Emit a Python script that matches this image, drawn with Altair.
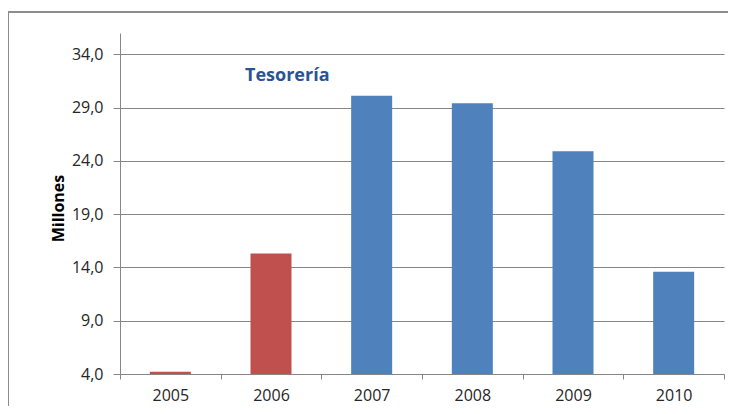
import altair as alt
import pandas as pd

years = ["2005", "2006", "2007", "2008", "2009", "2010"]
values = [4.2, 15.3, 30.1, 29.4, 24.9, 13.6]
colors = ["#C0504D", "#C0504D", "#4F81BD", "#4F81BD", "#4F81BD", "#4F81BD"]
y_ticks = [4, 9, 14, 19, 24, 29, 34]
title_text = "Tesorería"
y_title = "Millones"

df = pd.DataFrame({"year": years, "value": values, "color": colors})

W, H = 604, 341
FONT = "Open Sans"

bars = alt.Chart(df).mark_bar(size=41).encode(
    x=alt.X("year:N", sort=years,
            scale=alt.Scale(paddingInner=0, paddingOuter=0),
            axis=alt.Axis(title=None, labelAngle=0, tickBand="extent", tickSize=5,
                          labelPadding=8, labelFontSize=16, labelFont=FONT,
                          labelColor="#262626", domainColor="#868686",
                          tickColor="#868686", grid=False)),
    y=alt.Y("value:Q", scale=alt.Scale(domain=[4, 36], nice=False, zero=False),
            axis=alt.Axis(values=y_ticks, title=y_title, tickSize=7,
                          labelPadding=10, labelFontSize=16, labelFont=FONT,
                          labelColor="#262626",
                          labelExpr="replace(format(datum.value, '.1f'), '.', ',')",
                          domainColor="#868686", tickColor="#868686",
                          gridColor="#868686", grid=True,
                          titleFont=FONT, titleFontSize=16, titleFontWeight="bold",
                          titleColor="#000000", titleX=-62, titleY=175,
                          titleAngle=-90, titleAlign="center", titleBaseline="middle")),
    y2=alt.datum(4),
    color=alt.Color("color:N", scale=None),
)

ann = alt.Chart(pd.DataFrame({"t": [title_text]})).mark_text(
    align="left", baseline="middle", fontSize=18, fontWeight="bold",
    font=FONT, color="#2B5394"
).encode(text="t:N", x=alt.value(125), y=alt.value(43))

border = alt.Chart(pd.DataFrame({"a": [0]})).mark_rect(
    fillOpacity=0, stroke="#8C8C8C", strokeWidth=2, clip=False
).encode(x=alt.value(-112), x2=alt.value(W + 40), y=alt.value(-21), y2=alt.value(H + 60))

chart = alt.layer(border, bars, ann).properties(
    width=W, height=H,
    autosize=alt.AutoSizeParams(type="none"),
    padding={"left": 112, "top": 25, "right": 4, "bottom": 32},
).configure_view(stroke=None)

chart.save("out.html", embed_options={"renderer": "svg", "actions": False})
